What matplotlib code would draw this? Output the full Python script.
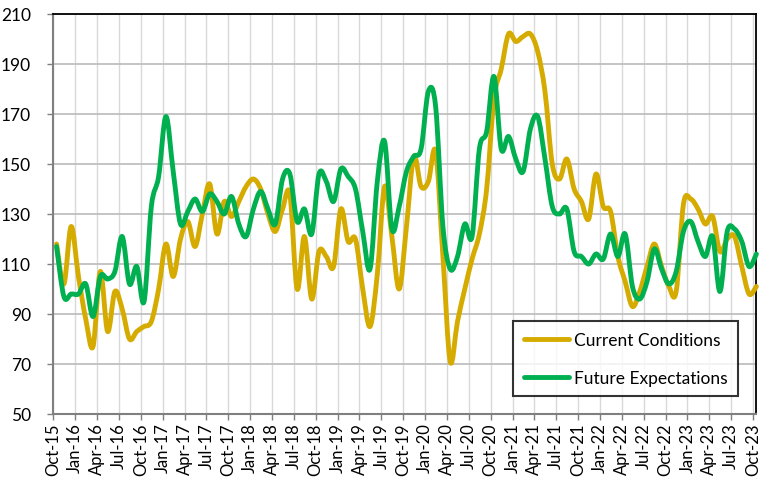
import matplotlib
matplotlib.use("Agg")
import matplotlib.pyplot as plt
from matplotlib.path import Path
from matplotlib.patches import PathPatch
from matplotlib.lines import Line2D
import numpy as np

# ---- data (monthly, Oct-15 .. Oct-23) ----
current_conditions = [
    118, 102, 125, 105, 88, 77, 107, 83, 99, 92,
    80, 83, 85, 87, 100, 118, 105, 120, 127, 117,
    130, 142, 122, 135, 129, 135, 141, 144, 140, 130,
    123, 132, 138, 100, 121, 96, 115, 113, 109, 132,
    119, 120, 100, 85, 106, 141, 121, 100, 125, 153,
    141, 143, 155, 113, 71, 87, 100, 112, 122, 140,
    176, 188, 202, 199, 201, 202, 195, 179, 150, 144,
    152, 140, 135, 128, 146, 133, 131, 113, 103, 93,
    99, 109, 118, 109, 101, 99, 134, 136, 132, 126,
    129, 115, 120, 121, 109, 98, 101,
]
future_expectations = [
    117, 97, 98, 98, 102, 89, 105, 104, 107, 121,
    102, 109, 95, 133, 145, 169, 147, 126, 131, 136,
    131, 138, 135, 130, 137, 126, 121, 132, 139, 132,
    126, 144, 146, 127, 132, 122, 146, 143, 135, 148,
    145, 140, 123, 108, 143, 159, 124, 133, 147, 153,
    156, 179, 173, 125, 108, 113, 126, 121, 156, 163,
    185, 156, 161, 152, 147, 164, 169, 152, 133, 130,
    132, 115, 113, 110, 114, 112, 122, 113, 122, 101,
    96, 103, 116, 108, 102, 107, 123, 127, 119, 113,
    121, 99, 123, 124, 119, 109, 114,
]
tick_labels = ["Oct-15", "Jan-16", "Apr-16", "Jul-16", "Oct-16", "Jan-17", "Apr-17",
               "Jul-17", "Oct-17", "Jan-18", "Apr-18", "Jul-18", "Oct-18", "Jan-19",
               "Apr-19", "Jul-19", "Oct-19", "Jan-20", "Apr-20", "Jul-20", "Oct-20",
               "Jan-21", "Apr-21", "Jul-21", "Oct-21", "Jan-22", "Apr-22", "Jul-22",
               "Oct-22", "Jan-23", "Apr-23", "Jul-23", "Oct-23"]
y_ticks = [50, 70, 90, 110, 130, 150, 170, 190, 210]
series_names = ["Current Conditions", "Future Expectations"]
colors = ["#D5AB00", "#00B050"]

plt.rcParams['font.family'] = ['Lato', 'DejaVu Sans']

fig = plt.figure(figsize=(7.63, 4.81), dpi=100)
ax = fig.add_axes([53.3 / 763, 1 - 415 / 481, (756 - 53.3) / 763, 400 / 481])

POINT_SHIFT = 0.45  # points sit slightly right of the month ticks


def smooth_path(xs, ys):
    xs = np.asarray(xs, float)
    ys = np.asarray(ys, float)
    px = np.concatenate([[xs[0]], xs, [xs[-1]]])
    py = np.concatenate([[ys[0]], ys, [ys[-1]]])
    verts = [(xs[0], ys[0])]
    codes = [Path.MOVETO]
    for i in range(1, len(xs)):
        p0x, p0y = px[i - 1], py[i - 1]
        p1x, p1y = px[i], py[i]
        p2x, p2y = px[i + 1], py[i + 1]
        p3x, p3y = px[i + 2], py[i + 2]
        c1 = (p1x + (p2x - p0x) / 6, p1y + (p2y - p0y) / 6)
        c2 = (p2x - (p3x - p1x) / 6, p2y - (p3y - p1y) / 6)
        verts += [c1, c2, (p2x, p2y)]
        codes += [Path.CURVE4] * 3
    return Path(verts, codes)


x = np.arange(len(current_conditions)) + POINT_SHIFT
for vals, col in zip([current_conditions, future_expectations], colors):
    patch = PathPatch(smooth_path(x, vals), facecolor='none', edgecolor=col,
                      lw=3.5, capstyle='round', joinstyle='round', zorder=3,
                      clip_on=False)
    ax.add_patch(patch)

ax.set_xlim(0, 96.4)
ax.set_ylim(50, 210)
ax.set_yticks(y_ticks)
ax.set_yticklabels([str(v) for v in y_ticks], fontsize=12.5)
ax.set_xticks(np.arange(0, 97, 3))
ax.set_xticklabels(tick_labels, rotation=90, fontsize=12)

ax.grid(axis='y', color='#bfbfbf', lw=1.3, zorder=0)
ax.grid(axis='x', color='#d9d9d9', lw=1.0, zorder=0)
ax.set_axisbelow(True)

for s in ['top', 'right']:
    ax.spines[s].set_color('black')
    ax.spines[s].set_linewidth(1.3)
for s in ['left', 'bottom']:
    ax.spines[s].set_color('#7f7f7f')
    ax.spines[s].set_linewidth(1.5)
ax.tick_params(axis='both', direction='out', length=4, width=1, color='#7f7f7f',
               labelcolor='black')
ax.tick_params(axis='y', pad=12)
ax.tick_params(axis='x', pad=2)

handles = [Line2D([0], [0], color=c, lw=3.5, solid_capstyle='round') for c in colors]
leg = ax.legend(handles, series_names, loc='lower right',
                bbox_to_anchor=((738 - 53.3) / (756 - 53.3), (415 - 397) / 400),
                fontsize=12.5, frameon=True, fancybox=False, handlelength=2.6,
                labelspacing=1.25, borderpad=0.6, handletextpad=0.3, borderaxespad=0)
leg.get_frame().set_edgecolor('black')
leg.get_frame().set_linewidth(1.5)
leg.set_zorder(5)

fig.savefig("out.png", dpi=100)
